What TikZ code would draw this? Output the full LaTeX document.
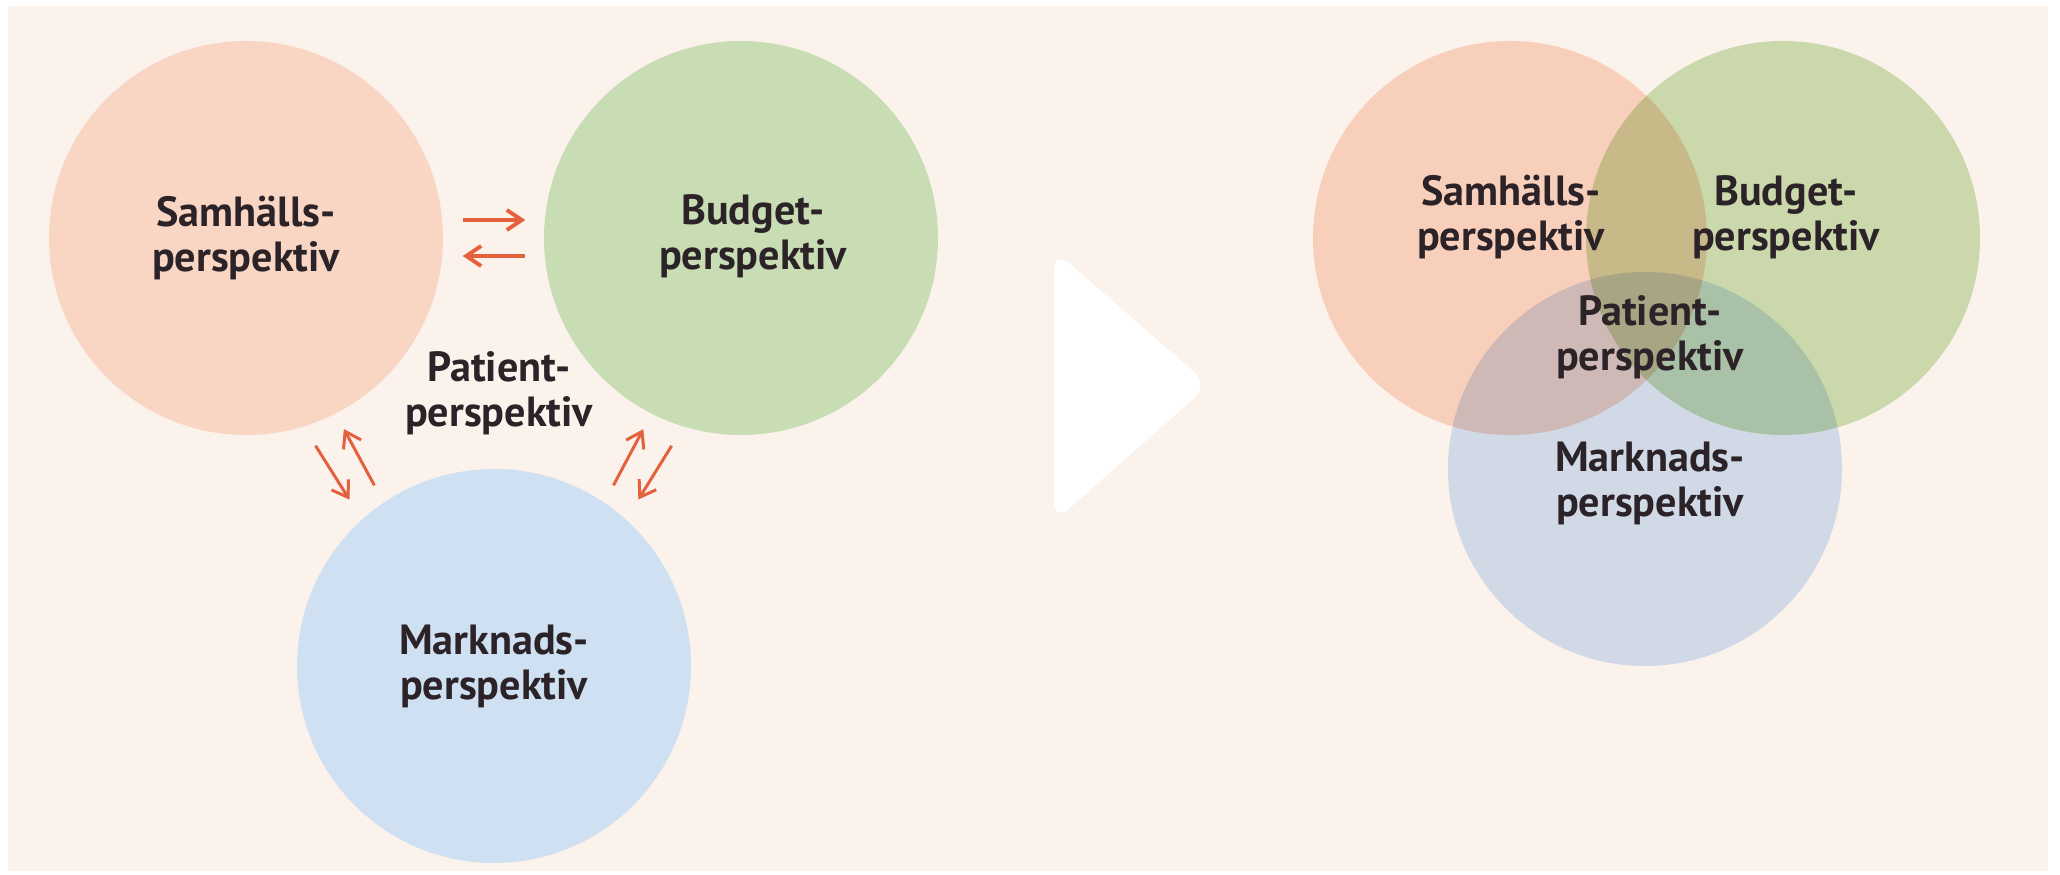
\documentclass[tikz,border=0pt]{standalone}
\usepackage{fontspec}
\setmainfont{PT Sans}
\usetikzlibrary{arrows.meta}

\definecolor{bgcream}{HTML}{FBF2EC}
\definecolor{samcol}{HTML}{F9D5C3}
\definecolor{budcol}{HTML}{C9DDB5}
\definecolor{markcol}{HTML}{CFE0F3}
\definecolor{samvenn}{HTML}{FCDBCB}
\definecolor{budvenn}{HTML}{CEE4BA}
\definecolor{markvenn}{HTML}{D5E4F9}
\definecolor{arrcol}{HTML}{E5603D}
\definecolor{txtcol}{HTML}{2B2327}

\tikzset{
  persp/.style={circle, minimum size=3.94cm, inner sep=0pt},
  lbl/.style={align=center, text=txtcol, font=\bfseries\fontsize{12}{12.8}\selectfont},
  flow/.style={-{Straight Barb[length=1.5mm,width=2mm]}, draw=arrcol, line width=1.1pt},
}

\begin{document}
\begin{tikzpicture}
  \fill[white] (0,0) rectangle (20.6,8.75);
  \fill[bgcream] (0.08,0.04) rectangle (20.48,8.69);

  % separate perspectives
  \node[persp, lbl, fill=samcol] (samL) at (2.46,6.37) {Samhälls-\\perspektiv};
  \node[persp, fill=budcol] (budL) at (7.41,6.37) {};
  \node[lbl] (budLtxt) at (7.53,6.39) {Budget-\\perspektiv};
  \node[persp, lbl, fill=markcol] (markL) at (4.94,2.09) {Marknads-\\perspektiv};
  \node[lbl] (patL) at (4.99,4.82) {Patient-\\perspektiv};

  \draw[flow, shorten <=1.9mm, shorten >=1.8mm] ([yshift=1.8mm]samL.east) -- ([yshift=1.8mm]budL.west);
  \draw[flow, shorten <=1.8mm, shorten >=1.9mm] ([yshift=-1.8mm]budL.west) -- ([yshift=-1.8mm]samL.east);

  \draw[flow, line width=0.85pt, shorten <=2.2mm, shorten >=2.3mm] (samL.-73) -- (markL.132);
  \draw[flow, line width=0.85pt, shorten <=1.9mm, shorten >=1.7mm] (markL.124) -- (samL.-63);
  \draw[flow, line width=0.85pt, shorten <=2.2mm, shorten >=2.3mm] (budL.-107) -- (markL.48);
  \draw[flow, line width=0.85pt, shorten <=1.9mm, shorten >=1.7mm] (markL.56) -- (budL.-117);

  % arrow in the middle
  \fill[white, rounded corners=2mm] (10.54,6.25) -- (12.09,4.90) -- (10.54,3.53) -- cycle;

  % overlapping perspectives
  \begin{scope}[blend mode=multiply]
    \node[persp, fill=samvenn] (samR) at (15.10,6.37) {};
    \node[persp, fill=budvenn] (budR) at (17.83,6.37) {};
    \node[persp, fill=markvenn] (markR) at (16.45,4.06) {};
  \end{scope}
  \node[lbl] (samRtxt) at (15.11,6.58) {Samhälls-\\perspektiv};
  \node[lbl] (budRtxt) at (17.86,6.58) {Budget-\\perspektiv};
  \node[lbl] (patRtxt) at (16.50,5.38) {Patient-\\perspektiv};
  \node[lbl] (markRtxt) at (16.50,3.92) {Marknads-\\perspektiv};
\end{tikzpicture}
\end{document}
